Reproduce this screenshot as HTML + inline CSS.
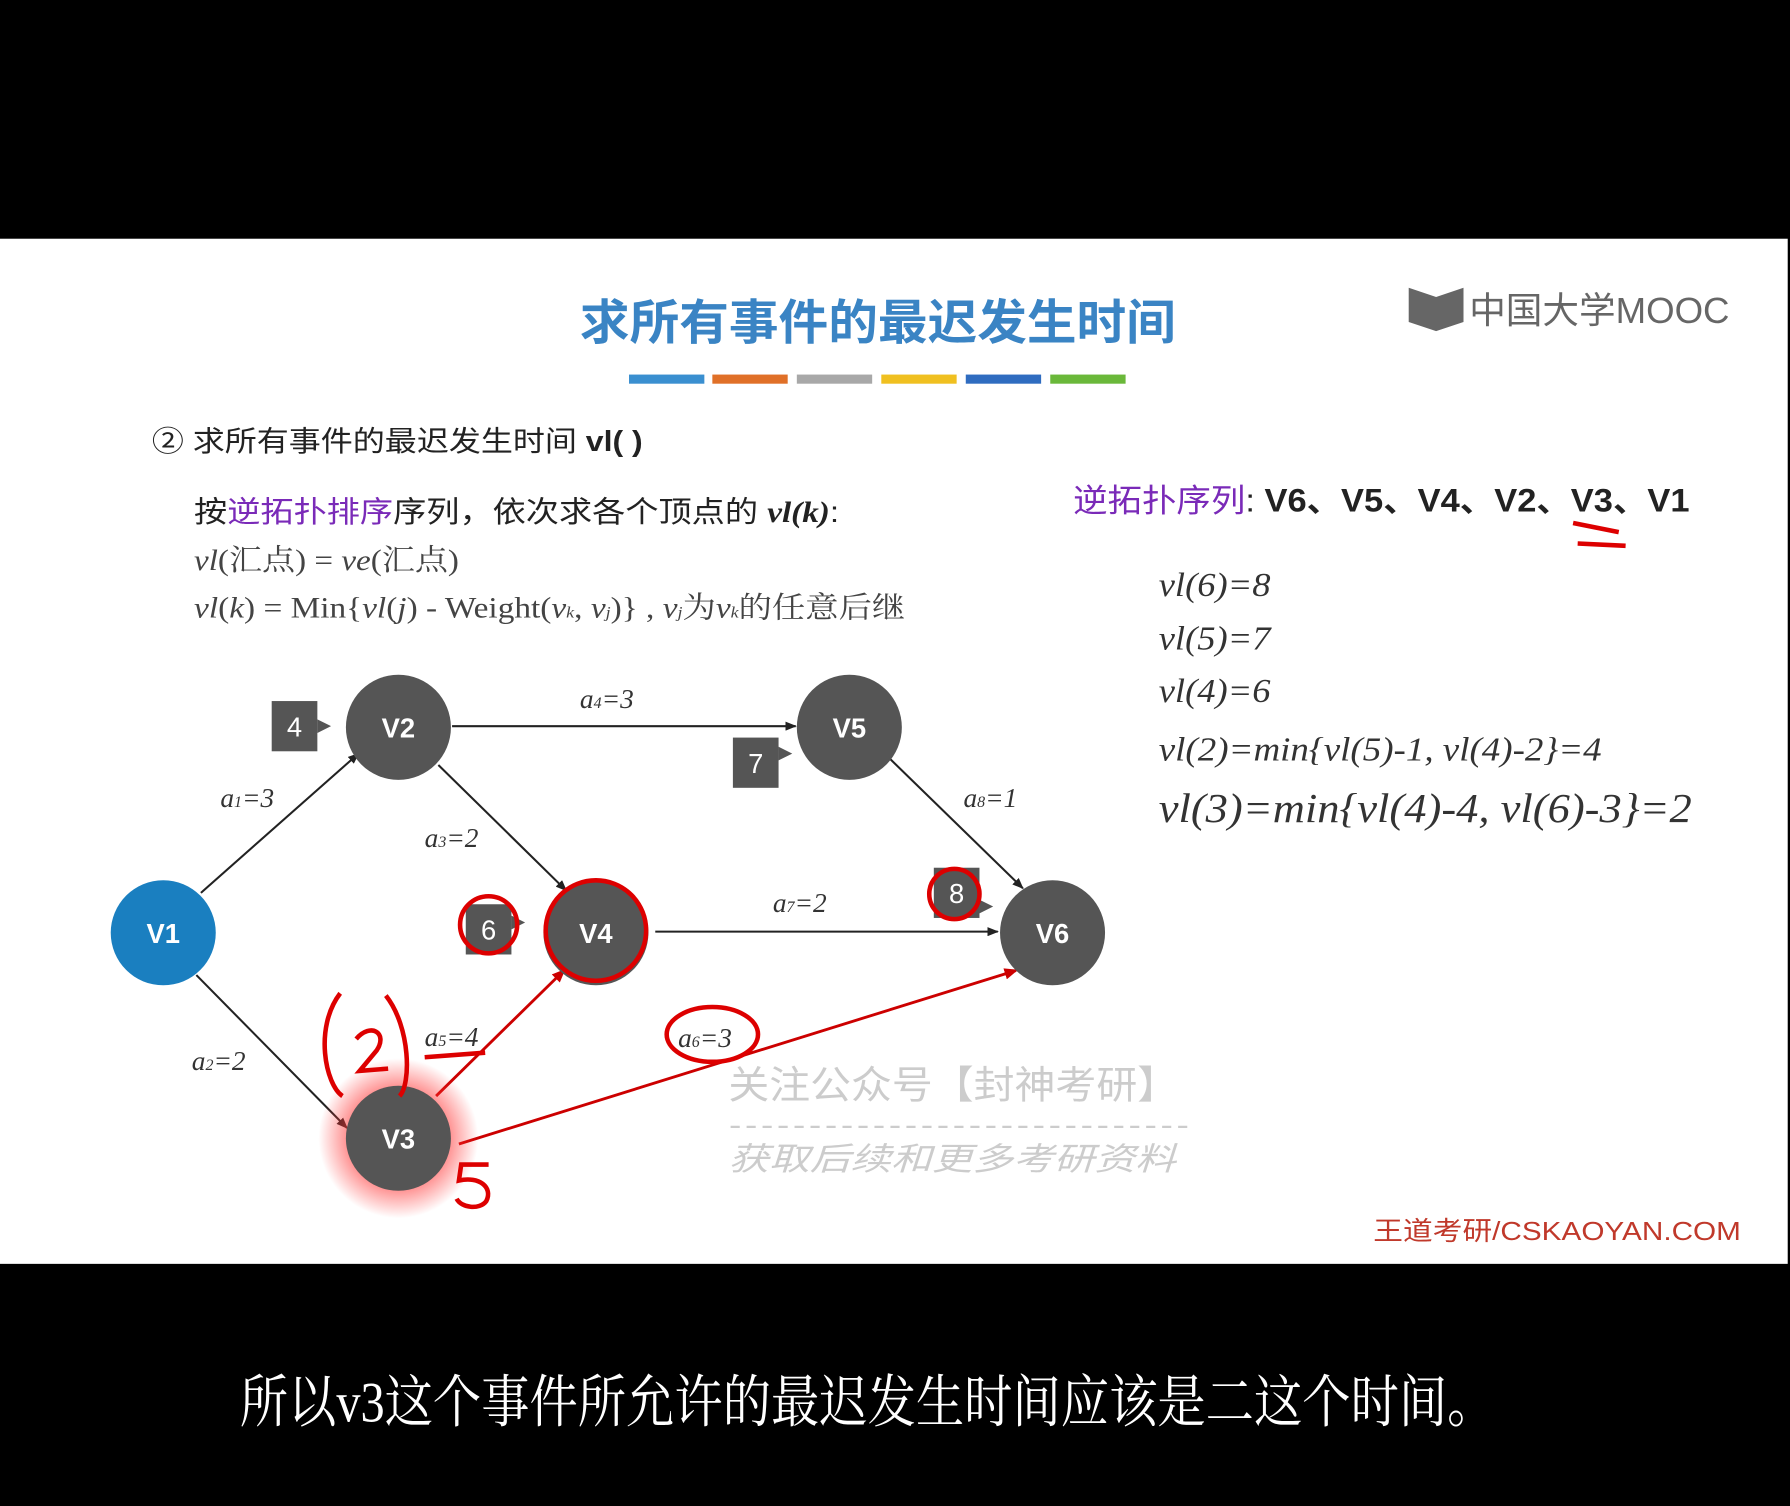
<!DOCTYPE html>
<html><head><meta charset="utf-8"><style>
html,body{margin:0;padding:0;background:#000;}
svg{display:block}
text{font-family:"Liberation Sans","Noto Sans CJK SC",sans-serif;}
.it,.it text,text.it{font-family:"Liberation Serif","Noto Serif CJK SC",serif;font-style:italic;}
</style></head><body>
<svg width="1790" height="1506" viewBox="0 0 1568 1319" xmlns="http://www.w3.org/2000/svg">
<defs>
<marker id="a" markerWidth="10" markerHeight="8" refX="9" refY="4" orient="auto" markerUnits="userSpaceOnUse"><path d="M0,0 L10,4 L0,8z" fill="#222"/></marker>
<marker id="r" markerWidth="12" markerHeight="10" refX="10" refY="5" orient="auto" markerUnits="userSpaceOnUse"><path d="M0,0 L12,5 L0,10z" fill="#c00"/></marker>
<radialGradient id="g"><stop offset="0.6" stop-color="#f33" stop-opacity="0.6"/><stop offset="1" stop-color="#f33" stop-opacity="0"/></radialGradient>
</defs>
<rect width="1568" height="1319" fill="#000"/>
<rect x="0" y="209" width="1566" height="898" fill="#fff"/>
<text x="508" y="297" font-size="42" fill="#3a84c4" font-weight="bold" textLength="522" lengthAdjust="spacingAndGlyphs">求所有事件的最迟发生时间</text>
<rect x="551" y="328" width="66" height="8" fill="#3a8fd0"/>
<rect x="624" y="328" width="66" height="8" fill="#e07028"/>
<rect x="698" y="328" width="66" height="8" fill="#a8a8a8"/>
<rect x="772" y="328" width="66" height="8" fill="#f0c020"/>
<rect x="846" y="328" width="66" height="8" fill="#2f6cc0"/>
<rect x="920" y="328" width="66" height="8" fill="#6ab83a"/>
<path d="M1234,252 L1258,260 L1282,252 L1282,282 L1258,290 L1234,282z" fill="#666"/>
<text x="1287" y="283" font-size="32" fill="#666" textLength="228" lengthAdjust="spacingAndGlyphs">中国大学MOOC</text>
<text x="133" y="395" font-size="25" fill="#222" textLength="430" lengthAdjust="spacingAndGlyphs">② 求所有事件的最迟发生时间 <tspan font-weight="bold">vl( )</tspan></text>
<text x="170" y="457" font-size="26" fill="#222" textLength="565" lengthAdjust="spacingAndGlyphs">按<tspan fill="#7a2ab8">逆拓扑排序</tspan>序列，依次求各个顶点的 <tspan class="it" font-weight="bold">vl(k)</tspan>:</text>
<text x="170" y="499" font-size="26" fill="#444" class="it" textLength="232" lengthAdjust="spacingAndGlyphs">vl<tspan font-style="normal">(汇点) = </tspan>ve<tspan font-style="normal">(汇点)</tspan></text>
<text x="170" y="541" font-size="26" fill="#444" class="it" textLength="623" lengthAdjust="spacingAndGlyphs">vl<tspan font-style="normal">(</tspan>k<tspan font-style="normal">) = Min{</tspan>vl<tspan font-style="normal">(</tspan>j<tspan font-style="normal">) - Weight(</tspan>v<tspan font-size="14">k</tspan><tspan font-style="normal">, </tspan>v<tspan font-size="14">j</tspan><tspan font-style="normal">)} , </tspan>v<tspan font-size="14">j</tspan><tspan font-style="normal">为</tspan>v<tspan font-size="14">k</tspan><tspan font-style="normal">的任意后继</tspan></text>
<text x="940" y="448" font-size="28" fill="#7a2ab8" textLength="540" lengthAdjust="spacingAndGlyphs">逆拓扑序列<tspan fill="#222">: </tspan><tspan fill="#222" font-weight="bold">V6、V5、V4、V2、V3、V1</tspan></text>
<path d="M1378,458 L1418,466 M1382,476 L1424,478" stroke="#d00" stroke-width="4" fill="none"/>
<g class="it" font-size="30" fill="#333">
<text x="1015" y="522" textLength="98" lengthAdjust="spacingAndGlyphs">vl(6)=8</text>
<text x="1015" y="569" textLength="98" lengthAdjust="spacingAndGlyphs">vl(5)=7</text>
<text x="1015" y="615" textLength="98" lengthAdjust="spacingAndGlyphs">vl(4)=6</text>
<text x="1015" y="666" textLength="388" lengthAdjust="spacingAndGlyphs">vl(2)=min{vl(5)-1, vl(4)-2}=4</text>
<text x="1015" y="720" font-size="36" textLength="467" lengthAdjust="spacingAndGlyphs">vl(3)=min{vl(4)-4, vl(6)-3}=2</text>
</g>
<g stroke="#222" stroke-width="1.8" fill="none" marker-end="url(#a)">
<line x1="176" y1="782" x2="314" y2="660"/>
<line x1="172" y1="854" x2="304" y2="988"/>
<line x1="384" y1="670" x2="496" y2="780"/>
<line x1="396" y1="636" x2="697" y2="636"/>
<line x1="574" y1="816" x2="874" y2="816"/>
<line x1="780" y1="665" x2="896" y2="778"/>
</g>
<g stroke="#c00" stroke-width="2.5" fill="none" marker-end="url(#r)">
<line x1="382" y1="960" x2="494" y2="850"/>
<line x1="402" y1="1002" x2="890" y2="850"/>
</g>
<circle cx="349" cy="997" r="70" fill="url(#g)"/>
<g fill="#555"><circle cx="349" cy="637" r="46"/><circle cx="744" cy="637" r="46"/><circle cx="522" cy="817" r="46"/><circle cx="922" cy="817" r="46"/><circle cx="349" cy="997" r="46"/></g>
<circle cx="143" cy="817" r="46" fill="#1a7fc0"/>
<g font-size="24" fill="#fff" font-weight="bold" text-anchor="middle">
<text x="143" y="826">V1</text><text x="349" y="646">V2</text><text x="744" y="646">V5</text><text x="522" y="826">V4</text><text x="922" y="826">V6</text><text x="349" y="1006">V3</text>
</g>
<g fill="#555"><rect x="238" y="614" width="40" height="44"/><rect x="642" y="646" width="40" height="44"/><rect x="408" y="792" width="40" height="44"/><rect x="818" y="760" width="40" height="44"/></g>
<g fill="#555"><path d="M278,630 L290,636 L278,642z M682,654 L694,660 L682,666z M448,802 L460,808 L448,814z M858,788 L870,794 L858,800z"/></g>
<g font-size="24" fill="#fff" text-anchor="middle"><text x="258" y="645">4</text><text x="662" y="677">7</text><text x="428" y="823">6</text><text x="838" y="791">8</text></g>
<g class="it" font-size="24" fill="#333">
<text x="193" y="707">a<tspan font-size="14">1</tspan>=3</text>
<text x="508" y="620">a<tspan font-size="14">4</tspan>=3</text>
<text x="372" y="742">a<tspan font-size="14">3</tspan>=2</text>
<text x="844" y="707">a<tspan font-size="14">8</tspan>=1</text>
<text x="677" y="799">a<tspan font-size="14">7</tspan>=2</text>
<text x="168" y="937">a<tspan font-size="14">2</tspan>=2</text>
<text x="372" y="916">a<tspan font-size="14">5</tspan>=4</text>
<text x="594" y="917">a<tspan font-size="14">6</tspan>=3</text>
</g>
<g stroke="#d00" stroke-width="4" fill="none">
<circle cx="522" cy="815" r="44"/>
<circle cx="428" cy="810" r="25"/>
<circle cx="836" cy="783" r="22"/>
<ellipse cx="624" cy="906" rx="40" ry="24"/>
<path d="M298,870 C275,900 285,950 300,960 M338,872 C360,900 360,950 350,960"/>
<path d="M312,910 C325,895 340,905 330,920 L315,938 L340,936"/>
<path d="M372,926 L425,922"/>
<path d="M428,1020 L404,1020 L402,1034 C420,1030 432,1040 426,1052 C420,1060 404,1058 400,1050"/>
</g>
<text x="638" y="962" font-size="34" fill="#ccc" textLength="394" lengthAdjust="spacingAndGlyphs">关注公众号【封神考研】</text>
<line x1="640" y1="987" x2="1040" y2="987" stroke="#ccc" stroke-dasharray="8,6" stroke-width="2"/>
<text x="638" y="1025" font-size="28" fill="#ccc" font-style="italic" textLength="392" lengthAdjust="spacingAndGlyphs">获取后续和更多考研资料</text>
<text x="1203" y="1086" font-size="23" fill="#c0392b" textLength="322" lengthAdjust="spacingAndGlyphs">王道考研/CSKAOYAN.COM</text>
<text x="210" y="1245" font-size="50" fill="#fff" textLength="1100" lengthAdjust="spacingAndGlyphs" style="font-family:'Liberation Serif','Noto Serif CJK SC',serif">所以v3这个事件所允许的最迟发生时间应该是二这个时间。</text>
</svg>
</body></html>
